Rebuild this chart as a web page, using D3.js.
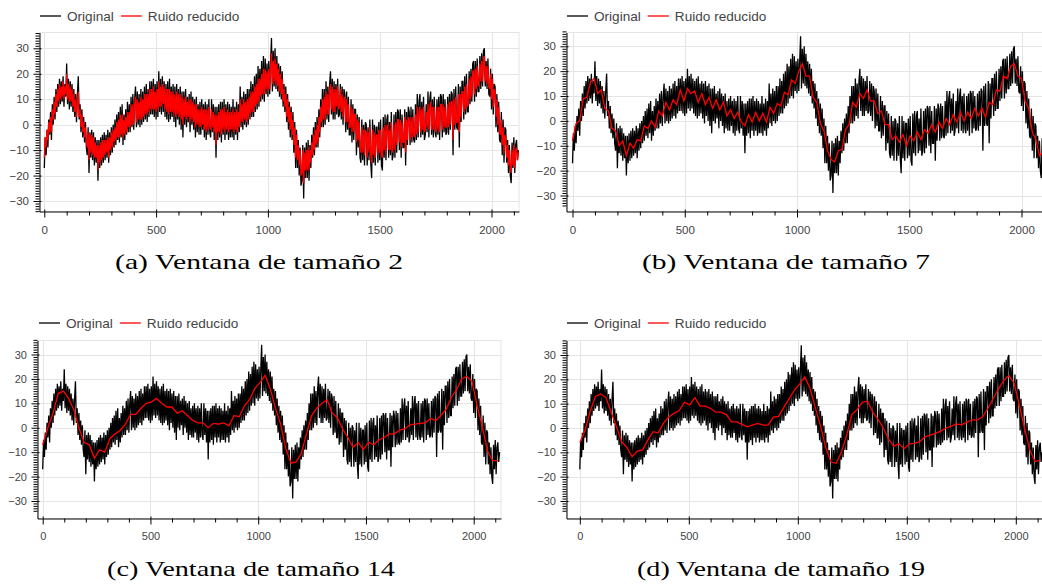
<!DOCTYPE html>
<html>
<head>
<meta charset="utf-8">
<script src="https://cdn.jsdelivr.net/npm/d3@7"></script>
<style>
  body { margin: 0; background: #fff; }
  svg { display: block; }
  .axis text, .legend text { font-family: "Liberation Sans", Arial, sans-serif; fill: #444; }
  .caption { font-family: "Liberation Serif", serif; fill: #000; }
</style>
</head>
<body>
<div id="chart"></div>
<script>
// signal, one value every `step` samples
var originalStep = 4;
var original = [
    -17, -5, -12, -2, -9, 2, -4, 5, -6, 8, 0, 11, 2, 14, 5, 16, 7, 18, 8, 17, 9, 19, 7, 16,
    11, 24, 8, 18, 6, 17, 7, 16, 5, 14, 3, 12, 1, 12, 19, 2, 8, -3, 6, -5, 3, -7, 1, -9,
    -12, -1, -19, -3, -13, -2, -14, -3, -16, -5, -15, -6, -22, -6, -17, -5, -16, -4, -15, -3, -14, -4, -13, -2,
    -15, -3, -12, -1, -11, 0, -9, 2, -8, 4, -6, 5, -7, 7, -5, 8, -8, 4, -6, 6, -4, 9, -3, 8,
    -3, 11, -1, 12, -2, 10, 15, -1, 13, 0, 12, -1, 14, 0, 13, 1, 15, 2, 16, 1, 14, 3, 17, 4,
    17, 4, 18, 3, 16, 2, 17, 3, 21, 5, 18, 4, 19, 5, 17, 3, 16, 2, 17, 1, 18, 2, 15, 3,
    16, 1, 15, -1, 16, 2, 14, 0, 15, -2, 13, -5, 13, 0, 14, -1, 11, 1, 12, -3, 13, 0, 11, -2,
    10, -5, 11, -3, 8, -4, 9, -4, 10, -2, 8, -5, 9, -6, 8, -4, 10, -3, -5, 10, -3, 8, -6, 7,
    -13, 7, -6, 8, -5, 9, -7, 9, -4, 10, -6, 8, -4, 9, -6, 8, -5, 7, -5, 10, -6, 7, -4, 9,
    -6, 8, -3, 15, -1, 11, -2, 13, 0, 12, -1, 14, 0, 14, 2, 17, 3, 16, 3, 19, 5, 20, 6, 23,
    7, 22, 9, 25, 10, 27, 9, 26, 12, 24, 11, 25, 12, 24, 34, 13, 29, 15, 30, 14, 27, 13, 24, 11,
    23, 10, 21, 7, 16, 5, 15, 1, 12, -2, 9, -5, 7, -6, 5, -11, 1, -17, -2, -17, -6, -20, -9, -24,
    -22, -8, -29, -9, -21, -7, -21, -6, -22, -8, -17, -4, -13, -1, -12, 1, -9, 3, -9, 6, -5, 10, -1, 14,
    -1, 14, 0, 17, 2, 15, 1, 16, 21, 4, 18, 2, 17, 2, 16, 4, 18, 3, 4, 16, 2, 15, 0, 14,
    12, -3, 13, -2, 11, -4, -4, 10, -7, 8, -6, 6, 6, -12, 4, -9, 3, -13, -15, 2, -14, 0, -16, 1,
    0, -16, -1, -14, 2, -15, -21, 2, -15, 0, -16, -1, -1, -15, 1, -14, 2, -16, -18, 3, -13, 4, -14, 2,
    4, -13, 1, -12, 5, -14, -12, 4, -13, 5, -11, 6, 5, -10, 6, -13, 4, -9, -9, 6, -16, 5, -8, 7,
    5, -8, 7, -7, 6, -6, -7, 8, -6, 12, -5, 9, 12, -5, 9, -4, 11, -6, -4, 8, -3, 13, -5, 10,
    13, -4, 10, -5, 11, -3, -5, 10, -4, 11, -6, 12, 11, -5, 12, -3, 10, -4, -3, 11, -4, 12, -2, 13,
    12, -12, 14, -2, 15, -1, -2, 16, -9, 15, 1, 17, 17, 2, 19, 4, 20, 5, 5, 21, 8, 22, 9, 24,
    25, 9, 25, 11, 26, 13, 13, 27, 14, 28, 15, 29, 30, 15, 25, 14, 26, 12, 11, 22, 6, 20, 4, 16,
    15, -1, 12, -3, 9, -6, -7, 5, -12, 2, -15, -1, -2, -15, -6, -19, -8, -20, -23, -7, -17, -5, -19, -8,
    -6, -14, -10];

var reduced2Step = 4;
var reduced2 = [
    -13, -5, -9, -2, -6, 1, -3, 3, -3, 6, 2, 9, 4, 12, 7, 14, 9, 16, 10, 15, 11, 17, 10, 15,
    12, 20, 10, 16, 9, 15, 9, 14, 7, 12, 5, 10, 3, 9, 13, 3, 6, -1, 4, -3, 1, -5, -1, -7,
    -9, -3, -14, -4, -11, -4, -12, -5, -13, -7, -13, -8, -18, -8, -15, -7, -14, -6, -13, -6, -12, -6, -11, -5,
    -13, -5, -10, -3, -9, -2, -7, -1, -6, 1, -5, 2, -5, 4, -4, 4, -5, 2, -4, 3, -3, 5, -1, 5,
    -1, 8, 0, 8, 0, 8, 11, 1, 10, 2, 9, 2, 11, 2, 10, 3, 12, 4, 12, 4, 12, 5, 14, 6,
    14, 6, 15, 6, 13, 5, 14, 6, 17, 7, 15, 7, 16, 8, 15, 6, 14, 5, 14, 4, 14, 5, 13, 5,
    13, 4, 12, 3, 13, 4, 12, 3, 12, 2, 11, 0, 10, 3, 11, 2, 9, 3, 10, 1, 10, 2, 9, 1,
    8, -1, 8, 0, 6, -1, 6, -1, 7, 0, 6, -2, 6, -3, 6, -2, 7, -1, -2, 6, -1, 5, -3, 4,
    -8, 4, -3, 5, -3, 6, -4, 6, -2, 7, -3, 5, -2, 6, -3, 5, -2, 5, -2, 6, -3, 5, -2, 6,
    -3, 5, -1, 10, 1, 8, 1, 10, 2, 9, 1, 10, 2, 11, 4, 13, 5, 13, 5, 15, 7, 16, 8, 18,
    9, 18, 11, 20, 12, 22, 12, 22, 14, 21, 13, 22, 14, 22, 28, 16, 25, 17, 26, 16, 24, 15, 22, 13,
    20, 12, 18, 9, 14, 7, 12, 3, 10, 1, 7, -2, 5, -4, 2, -8, -1, -13, -4, -14, -8, -16, -10, -20,
    -19, -10, -23, -11, -18, -10, -18, -9, -18, -10, -15, -7, -12, -4, -10, -2, -8, 0, -7, 3, -3, 7, 1, 10,
    2, 11, 2, 13, 4, 12, 4, 13, 16, 6, 15, 5, 14, 5, 14, 7, 15, 6, 7, 14, 5, 12, 3, 11,
    10, 1, 10, 1, 8, -1, -1, 7, -3, 6, -3, 4, 4, -7, 2, -6, 1, -9, -11, -1, -11, -2, -12, -2,
    -3, -13, -3, -11, -1, -12, -15, -2, -12, -3, -13, -4, -4, -12, -2, -11, -2, -12, -13, -1, -10, 0, -11, -1,
    0, -10, -2, -10, 1, -11, -9, 0, -10, 1, -8, 2, 2, -7, 2, -9, 1, -7, -7, 3, -11, 2, -6, 3,
    2, -6, 3, -5, 3, -4, -5, 4, -4, 7, -3, 5, 7, -3, 6, -2, 7, -3, -2, 5, -1, 8, -2, 7,
    9, -2, 7, -2, 7, -1, -3, 7, -2, 7, -3, 8, 8, -2, 8, -1, 7, -1, -1, 8, -1, 9, 0, 9,
    9, -6, 10, 0, 11, 1, 1, 12, -3, 12, 3, 13, 13, 5, 15, 6, 16, 7, 8, 18, 10, 19, 11, 21,
    21, 12, 22, 14, 23, 15, 16, 24, 17, 25, 17, 26, 27, 17, 23, 16, 23, 15, 14, 20, 10, 18, 7, 14,
    13, 3, 10, 0, 7, -3, -4, 2, -8, -1, -11, -4, -5, -13, -8, -16, -10, -17, -19, -10, -16, -8, -17, -10,
    -9, -14, -11];

var reduced7Step = 16;
var reduced7 = [-8, -1, 0, 9, 9.5, 15.5, 17, 11, 12.5, 5, 4, -3, -4, -10, -8, -14, -9, -11, -7.5, -8,
    -2, -3, 0, -2.5, 4, 2, 7.5, 4.5, 8.5, 6.5, 12.5, 8, 13, 11, 12, 7.5, 11, 6.5, 9.5, 5,
    8.5, 4.5, 7.5, 2, 4.5, 1, 3.5, -0.5, -2, 2.5, -0.5, 3.5, 0, 3, -0.5, 5.5, 3, 7, 6, 11.5,
    10.5, 16.5, 15, 20, 23, 18, 18, 9.5, 7.5, -1, -4, -12, -15.5, -16.5, -12, -11.5, -3.5, -1.5, 7.5, 5.5,
    11, 9, 12.5, 8, 8, 3, 4, -1.5, -1.5, -7.5, -6, -8.5, -5.5, -10, -6, -8, -4.5, -7.5, -3.5, -5,
    -1.5, -4.5, -0.5, -3, 1, -1.5, 2.5, -0.5, 3.5, 0, 3.5, 1, 5, 2, 5, 1.5, 7.5, 6.5, 12.5, 12,
    18, 17, 22, 23, 18, 17, 8, 5, -4.5, -7.5, -14, -12.5, -14.5];

var reduced14Step = 24;
var reduced14 = [-7, 0, 6, 14, 15, 12, 7.5, 0, -6, -7, -12.5, -9, -10, -4.5, -2.5, -1, 1.5, 5.5, 5.5, 8,
    10, 10.5, 12, 10, 8.5, 8.5, 6, 7, 5, 3, 2, 2, 0, 1.8, 1.5, 2, 0.8, 5, 4.5, 9,
    11.5, 16, 18.5, 21.5, 16, 8, 1.5, -8.5, -14.5, -14, -10.5, -2.5, 5, 8, 10, 11.5, 6, 4, -0.5, -4,
    -8, -6, -9, -6, -7, -5, -4, -2.5, -2.5, -1, -0.5, 1.2, 1.5, 1.8, 2, 3.8, 3, 5, 7.5, 12.5,
    15.5, 20, 21, 19, 9, 0.5, -9.5, -13.5, -13.5];

var reduced19Step = 24;
var reduced19 = [-6, -1, 7, 13, 14, 12.5, 6.5, 0.5, -5.6, -8, -11.8, -9.5, -9, -5, -1.5, -2, 2, 4.5, 6, 7.2,
    10.5, 9.5, 12.5, 9, 9, 8, 6.5, 6.5, 5.5, 2.5, 2.5, 1.5, 0.5, 1.2, 1.9, 1.2, 1.2, 4.5, 4.8, 8.5,
    12, 15.5, 18, 21, 16.3, 8.5, 1, -8, -14, -14.5, -10, -3, 5.5, 7.5, 10.5, 11, 6.5, 3.5, 0, -4.5,
    -7.5, -6.5, -8.5, -6.5, -6.3, -5.6, -3.6, -2.9, -2.2, -1.3, 0, 0.8, 1.7, 1.3, 2.4, 3.3, 3.3, 4.6, 8, 12,
    16, 19.5, 21.5, 18.5, 9.5, 0, -9, -13.8, -13.2];

var xTicks = [0, 500, 1000, 1500, 2000];
var yTicks = [-30, -20, -10, 0, 10, 20, 30];
var legendLabels = ['Original', 'Ruido reducido'];
var captions = ['(a) Ventana de tamaño 2', '(b) Ventana de tamaño 7',
    '(c) Ventana de tamaño 14', '(d) Ventana de tamaño 19'];

// pixel layout of the four sub-plots (they were scaled slightly differently in the page)
var panels = [
    {red: reduced2, redStep: reduced2Step, caption: captions[0],
        left: 39.5, right: 519, top: 32.5, bottom: 211.5,
        x0: 44.3, x2000: 491.5, y30: 48.3, ym30: 201,
        legendX: 40, legendY: 16, font: 11.5, capX: 259, capY: 269},
    {red: reduced7, redStep: reduced7Step, caption: captions[1],
        left: 566.5, right: 1047, top: 32.5, bottom: 211.5,
        x0: 572.5, x2000: 1021.5, y30: 46.3, ym30: 195.5,
        legendX: 567, legendY: 16, font: 11.5, capX: 786, capY: 269},
    {red: reduced14, redStep: reduced14Step, caption: captions[2],
        left: 37.5, right: 501, top: 340.5, bottom: 518.5,
        x0: 42.7, x2000: 473.7, y30: 354.5, ym30: 501,
        legendX: 39, legendY: 323, font: 11, capX: 251, capY: 576},
    {red: reduced19, redStep: reduced19Step, caption: captions[3],
        left: 566.5, right: 1043, top: 340.5, bottom: 518.5,
        x0: 579.8, x2000: 1015.8, y30: 355, ym30: 501,
        legendX: 567, legendY: 323, font: 11, capX: 781, capY: 576}
];

var width = 1042;
var height = 584;

var svg = d3.select('#chart')
    .append('svg')
    .attr('width', width)
    .attr('height', height);

function drawPanel(p, n) {

    var xScale = d3.scaleLinear().domain([0, 2000]).range([p.x0, p.x2000]);
    xScale.domain([xScale.invert(p.left), xScale.invert(p.right)]).range([p.left, p.right]);

    var yScale = d3.scaleLinear().domain([-30, 30]).range([p.ym30, p.y30]);
    yScale.domain([yScale.invert(p.bottom), yScale.invert(p.top)]).range([p.bottom, p.top]);

    var g = svg.append('g');

    // grid + outline
    g.append('g')
        .selectAll('line')
        .data(xTicks)
        .enter()
        .append('line')
        .attr('x1', function (d) { return Math.round(xScale(d)) + 0.5; })
        .attr('x2', function (d) { return Math.round(xScale(d)) + 0.5; })
        .attr('y1', p.top)
        .attr('y2', p.bottom)
        .attr('stroke', '#e5e5e5');

    g.append('g')
        .selectAll('line')
        .data(yTicks)
        .enter()
        .append('line')
        .attr('x1', p.left)
        .attr('x2', p.right)
        .attr('y1', function (d) { return Math.round(yScale(d)) + 0.5; })
        .attr('y2', function (d) { return Math.round(yScale(d)) + 0.5; })
        .attr('stroke', '#e5e5e5');

    g.append('rect')
        .attr('x', p.left)
        .attr('y', p.top)
        .attr('width', p.right - p.left)
        .attr('height', p.bottom - p.top)
        .attr('fill', 'none')
        .attr('stroke', '#e5e5e5');

    svg.append('clipPath')
        .attr('id', 'clip' + n)
        .append('rect')
        .attr('x', p.left)
        .attr('y', p.top)
        .attr('width', p.right - p.left)
        .attr('height', p.bottom - p.top);

    var plot = g.append('g').attr('clip-path', 'url(#clip' + n + ')');

    var lineFor = function (step) {
        return d3.line()
            .x(function (d, i) { return xScale(i * step); })
            .y(function (d) { return yScale(d); });
    };

    plot.append('path')
        .datum(original)
        .attr('d', lineFor(originalStep))
        .attr('fill', 'none')
        .attr('stroke', 'black')
        .attr('stroke-width', 1.3);

    plot.append('path')
        .datum(p.red)
        .attr('d', lineFor(p.redStep))
        .attr('fill', 'none')
        .attr('stroke', 'red')
        .attr('stroke-width', 1.3);

    // axes: major ticks out 6 / in 2, minor ticks out 4
    var xMinor = d3.range(0, 2200, 100).filter(function (d) { return d % 500 !== 0; });
    var yMinor = d3.range(-34, 37, 1).filter(function (d) { return d % 10 !== 0; });
    var fmt = d3.format('d');

    var xg = g.append('g')
        .attr('class', 'axis')
        .attr('transform', 'translate(0,' + p.bottom + ')');
    xg.call(d3.axisBottom(xScale).tickValues(xMinor).tickSize(4).tickFormat('').tickSizeOuter(0));
    xg.append('g').call(d3.axisTop(xScale).tickValues(xTicks).tickSize(2).tickFormat('').tickSizeOuter(0))
        .select('.domain').remove();
    xg.append('g').call(d3.axisBottom(xScale).tickValues(xTicks).tickFormat(fmt)
            .tickSize(6).tickPadding(8).tickSizeOuter(0))
        .select('.domain').remove();

    var yg = g.append('g')
        .attr('class', 'axis')
        .attr('transform', 'translate(' + p.left + ',0)');
    yg.call(d3.axisLeft(yScale).tickValues(yMinor).tickSize(4).tickFormat('').tickSizeOuter(0));
    yg.append('g').call(d3.axisRight(yScale).tickValues(yTicks).tickSize(2).tickFormat('').tickSizeOuter(0))
        .select('.domain').remove();
    yg.append('g').call(d3.axisLeft(yScale).tickValues(yTicks).tickFormat(fmt)
            .tickSize(6).tickPadding(4.5).tickSizeOuter(0))
        .select('.domain').remove();

    g.selectAll('.axis g').attr('font-family', null).attr('font-size', null);
    g.selectAll('.axis text').style('font-size', p.font + 'px');

    // legend
    var lg = g.append('g').attr('class', 'legend');
    var lx = p.legendX;
    var colors = ['black', 'red'];
    legendLabels.forEach(function (label, i) {
        lg.append('line')
            .attr('x1', lx)
            .attr('x2', lx + 21)
            .attr('y1', p.legendY)
            .attr('y2', p.legendY)
            .attr('stroke', colors[i])
            .attr('stroke-width', 1.3);
        var t = lg.append('text')
            .attr('x', lx + 27)
            .attr('y', p.legendY)
            .attr('dy', '0.35em')
            .style('font-size', '13.6px')
            .text(label);
        lx = lx + 27 + t.node().getComputedTextLength() + 7;
    });

    g.append('text')
        .attr('class', 'caption')
        .attr('x', p.capX)
        .attr('y', p.capY)
        .attr('text-anchor', 'middle')
        .attr('textLength', 288)
        .attr('lengthAdjust', 'spacingAndGlyphs')
        .style('font-size', '21px')
        .text(p.caption);
}

panels.forEach(drawPanel);
</script>
</body>
</html>
